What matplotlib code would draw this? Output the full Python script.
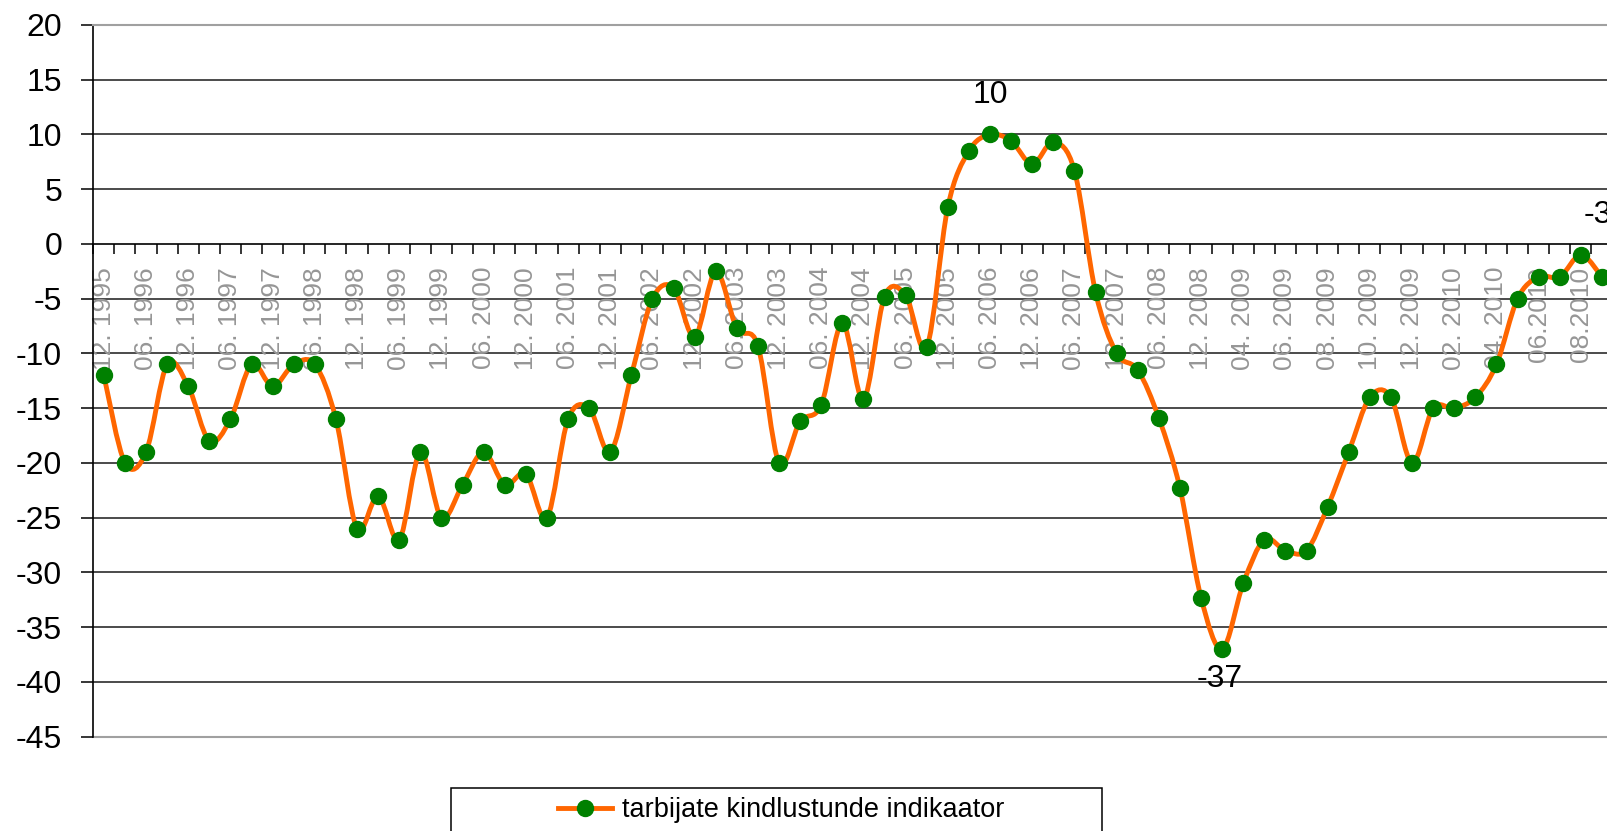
import numpy as np
import matplotlib
matplotlib.use("Agg")
import matplotlib.pyplot as plt
from matplotlib.path import Path
from matplotlib.patches import PathPatch, Rectangle
from matplotlib.lines import Line2D

plt.rcParams['font.family'] = ['Liberation Sans', 'DejaVu Sans']
plt.rcParams['axes.unicode_minus'] = False

# ----------data----------
periods = [
    "12. 1995", "03. 1996", "06. 1996", "09. 1996", "12. 1996", "03. 1997", "06. 1997", "09. 1997",
    "12. 1997", "03. 1998", "06. 1998", "09. 1998", "12. 1998", "03. 1999", "06. 1999", "09. 1999",
    "12. 1999", "03. 2000", "06. 2000", "09. 2000", "12. 2000", "03. 2001", "06. 2001", "09. 2001",
    "12. 2001", "03. 2002", "06. 2002", "09. 2002", "12. 2002", "03. 2003", "06. 2003", "09. 2003",
    "12. 2003", "03. 2004", "06. 2004", "09. 2004", "12. 2004", "03. 2005", "06. 2005", "09. 2005",
    "12. 2005", "03. 2006", "06. 2006", "09. 2006", "12. 2006", "03. 2007", "06. 2007", "09. 2007",
    "12. 2007", "03. 2008", "06. 2008", "09. 2008", "12. 2008", "03. 2009", "04. 2009", "05. 2009",
    "06. 2009", "07. 2009", "08. 2009", "09. 2009", "10. 2009", "11. 2009", "12. 2009", "01. 2010",
    "02. 2010", "03. 2010", "04. 2010", "05. 2010", "06.2010", "07.2010", "08.2010", "09.2010",
]
indicator = [
    -12, -20, -19, -11, -13, -18, -16, -11,
    -13, -11, -11, -16, -26, -23, -27, -19,
    -25, -22, -19, -22, -21, -25, -16, -15,
    -19, -12, -5, -4, -8.5, -2.5, -7.7, -9.3,
    -20, -16.2, -14.7, -7.2, -14.2, -4.8, -4.7, -9.4,
    3.4, 8.5, 10, 9.4, 7.3, 9.3, 6.7, -4.4,
    -10, -11.5, -15.9, -22.3, -32.3, -37, -31, -27,
    -28, -28, -24, -19, -14, -14, -20, -15,
    -15, -14, -11, -5, -3, -3, -1, -3,
]
series_name = "tarbijate kindlustunde indikaator"

ORANGE = "#ff6600"
GREEN = "#008000"
GRAY = "#969696"


def smooth_path(xs, ys):
    """Excel style smoothed line as cubic bezier segments"""
    pts = np.column_stack([xs, ys]).astype(float)
    n = len(pts)
    verts = [pts[0]]
    codes = [Path.MOVETO]
    for i in range(n - 1):
        p0 = pts[max(i - 1, 0)]
        p1 = pts[i]
        p2 = pts[i + 1]
        p3 = pts[min(i + 2, n - 1)]
        verts += [p1 + (p2 - p0) / 6, p2 - (p3 - p1) / 6, p2]
        codes += [Path.CURVE4] * 3
    return Path(verts, codes)


def main():
    W, H = 1608, 831
    fig = plt.figure(figsize=(W / 100, H / 100), dpi=100)
    ax = fig.add_axes([93.3 / W, 94.3 / H, 1519.2 / W, 711.7 / H])

    x = np.arange(len(indicator))
    ax.set_xlim(-0.5, len(indicator) - 0.5)
    ax.set_ylim(-45, 20)

    # ----------grid and frame----------
    for v in range(-40, 20, 5):
        if v != 0:
            ax.axhline(v, color="#1a1a1a", lw=1.1, zorder=1)
    ax.axhline(-45, color="#a0a0a0", lw=1.5, zorder=1, clip_on=False)
    ax.spines["top"].set_color("#a0a0a0")
    ax.spines["top"].set_linewidth(1.5)
    ax.spines["right"].set_visible(False)
    ax.spines["left"].set_linewidth(1.2)
    ax.spines["bottom"].set_position(("data", 0))
    ax.spines["bottom"].set_linewidth(1.2)

    # ----------y axis----------
    ax.set_yticks(range(-45, 25, 5))
    ax.tick_params(axis="y", direction="out", length=8.4, width=1.1, pad=14, labelsize=23)

    # ----------x axis: ticks between categories, labels every second one----------
    ax.set_xticks(np.arange(-0.5, len(indicator), 1))
    ax.set_xticklabels([])
    ax.tick_params(axis="x", which="major", direction="out", length=7, width=1.1)
    for xi in x[::2]:
        ax.annotate(periods[xi], xy=(xi, 0), xytext=(0, -23), textcoords="offset pixels",
                    rotation=90, ha="center", va="top", fontsize=19, color=GRAY,
                    zorder=2, annotation_clip=False)

    # ----------series----------
    ax.add_patch(PathPatch(smooth_path(x, indicator), fill=False, edgecolor=ORANGE,
                           lw=3.5, zorder=3, capstyle="round", joinstyle="round"))
    ax.plot(x, indicator, linestyle="none", marker="o", ms=11.5, mfc=GREEN, mec=GREEN,
            zorder=4, clip_on=False)

    # ----------data labels----------
    i_max = int(np.argmax(indicator))
    i_min = int(np.argmin(indicator))
    i_last = len(indicator) - 1
    ax.annotate(f"{indicator[i_max]:g}", xy=(i_max, indicator[i_max]), xytext=(0, 39),
                textcoords="offset pixels", ha="center", va="center", fontsize=23, zorder=5)
    ax.annotate(f"{indicator[i_min]:g}", xy=(i_min, indicator[i_min]), xytext=(-2, -30),
                textcoords="offset pixels", ha="center", va="center", fontsize=23, zorder=5)
    ax.annotate(f"{indicator[i_last]:g}", xy=(i_last, indicator[i_last]), xytext=(-4, 62),
                textcoords="offset pixels", ha="center", va="center", fontsize=23, zorder=5,
                annotation_clip=False)

    # ----------legend----------
    handle = Line2D([], [], color=ORANGE, lw=3.5, marker="o", ms=11.5, mfc=GREEN, mec=GREEN)
    fig.legend([handle], [series_name], loc="center", bbox_to_anchor=(781 / W, 21 / H),
               frameon=False, fontsize=19.5, handlelength=2.0, handletextpad=0.35)
    fig.add_artist(Rectangle((451 / W, -0.1), 651 / W, 0.1 + 43 / H, transform=fig.transFigure,
                             fill=False, edgecolor="black", lw=1.1))

    fig.savefig("out.png", dpi=100)


if __name__ == '__main__':
    main()
